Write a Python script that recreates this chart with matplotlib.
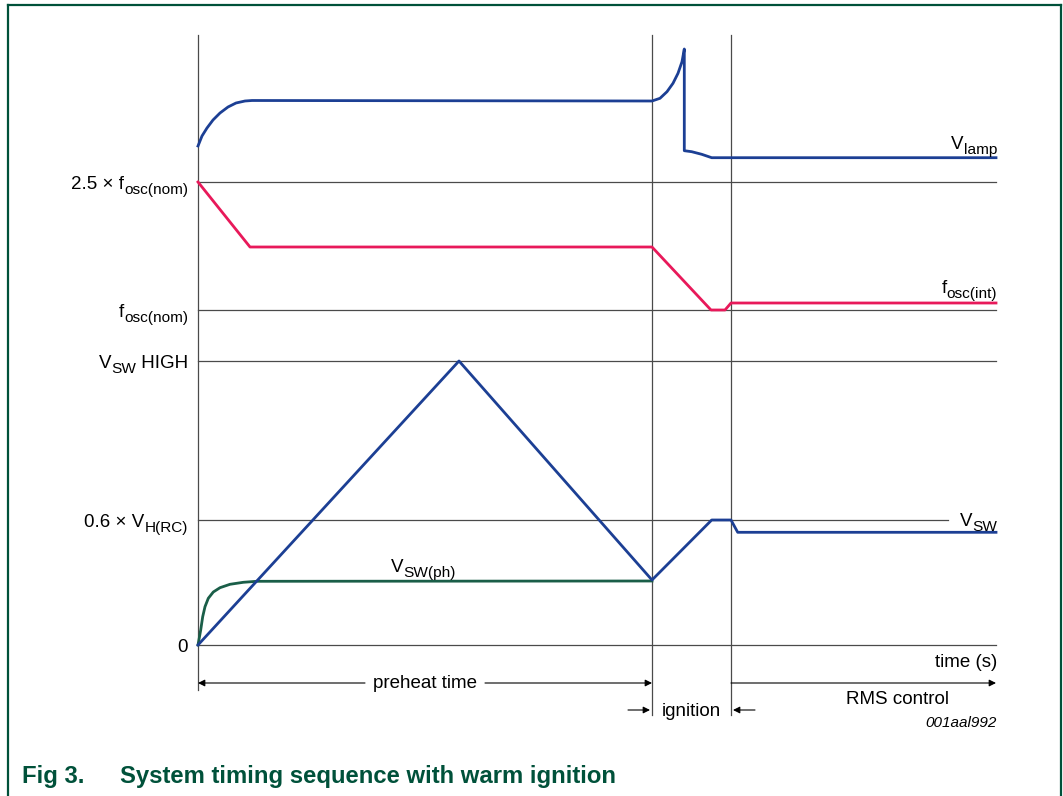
import matplotlib
matplotlib.use('Agg')
import matplotlib.pyplot as plt
from matplotlib.lines import Line2D
from matplotlib.transforms import offset_copy

plt.rcParams['font.family'] = ['Liberation Sans', 'DejaVu Sans']

# phase boundaries on the time axis
t_preheat = 454
t_ignition = 533
t_end = 798

# reference levels and their labels (text, is_subscript)
levels = [463, 335, 284, 125, 0]
level_labels = [[('2.5 × f', False), ('osc(nom)', True)],
                [('f', False), ('osc(nom)', True)],
                [('V', False), ('SW', True), (' HIGH', False)],
                [('0.6 × V', False), ('H(RC)', True)],
                [('0', False)]]
level_ends = [798, 798, 798, 750, 798]

# lamp voltage
vlamp_t = [0, 4, 9, 15, 22, 30, 38, 47, 54, 454, 462, 469, 475, 480, 484,
           486.3, 486.3, 493.7, 503.7, 513.7, 798]
vlamp_v = [499, 509, 517, 525, 532, 538, 542, 544, 544.5, 544, 546.7, 553.3,
           561.7, 571.7, 583.3, 596, 494.3, 493.3, 490.7, 487.3, 487.3]

# internal oscillator frequency
fosc_t = [0, 52, 454, 513, 527, 533, 798]
fosc_v = [463, 398, 398, 335, 335, 342, 342]

# switch voltage
vsw_t = [0, 261, 454, 513.7, 533, 539.7, 798]
vsw_v = [0, 284, 65, 125, 125, 112.7, 112.7]

# preheat switch voltage
vswph_t = [0, 2.7, 4.7, 7, 10.3, 15.3, 22, 32, 45.3, 58.7, 454]
vswph_v = [0, 15, 28.3, 38.3, 46.7, 53, 57.3, 60.7, 62.7, 63.7, 64]

blue = '#1c3f94'
red = '#e8195a'
green = '#1a5e48'
grey = '#4a4a4a'
frame = '#00513a'

fig = plt.figure(figsize=(10.63, 7.96), dpi=100)
ax = fig.add_axes([0, 0, 1, 1])
ax.set_xlim(-198, 865)
ax.set_ylim(-151, 645)
ax.axis('off')

fs = 13.5
renderer = fig.canvas.get_renderer()


def rich(x, y, parts, ha='left', size=fs):
    # lay out text pieces on one baseline, subscripts smaller and lowered
    pieces = []
    for s, sub in parts:
        t = ax.text(x, y, s, fontsize=size * 0.82 if sub else size,
                    va='baseline', ha='left')
        pieces.append((t, sub, t.get_window_extent(renderer).width))
    total = sum(w for _, _, w in pieces)
    off = {'left': 0, 'center': -total / 2, 'right': -total}[ha]
    for t, sub, w in pieces:
        t.set_transform(offset_copy(ax.transData, fig=fig, x=off,
                                    y=-5 if sub else 0, units='dots'))
        off += w


# horizontal reference lines
for lv, lab, xe in zip(levels, level_labels, level_ends):
    ax.plot([0, xe], [lv, lv], color=grey, lw=0.9)
    rich(-10, lv - 7, lab, ha='right')

# phase boundary lines
ax.plot([0, 0], [610, -45], color=grey, lw=0.9)
ax.plot([t_preheat, t_preheat], [610, -70], color=grey, lw=0.9)
ax.plot([t_ignition, t_ignition], [610, -70], color=grey, lw=0.9)

ax.plot(vlamp_t, vlamp_v, color=blue, lw=2.0, solid_joinstyle='round')
ax.plot(fosc_t, fosc_v, color=red, lw=2.0, solid_joinstyle='round')
ax.plot(vswph_t, vswph_v, color=green, lw=2.0, solid_joinstyle='round')
ax.plot(vsw_t, vsw_v, color=blue, lw=2.0, solid_joinstyle='round')

# curve labels
rich(799, 496, [('V', False), ('lamp', True)], ha='right')
rich(799, 352, [('f', False), ('osc(int)', True)], ha='right')
rich(799, 119, [('V', False), ('SW', True)], ha='right')
rich(193, 73, [('V', False), ('SW(ph)', True)], ha='left')
ax.text(799, -9, 'time (s)', ha='right', va='top', fontsize=fs)

# phase arrows
arr = dict(arrowstyle='-|>', color='black', lw=0.8, mutation_scale=10,
           shrinkA=0, shrinkB=0)
y_row = -38
ax.annotate('', xy=(0, y_row), xytext=(167, y_row), arrowprops=arr)
ax.annotate('', xy=(t_preheat, y_row), xytext=(287, y_row), arrowprops=arr)
ax.text(227, y_row, 'preheat time', ha='center', va='center', fontsize=fs)
ax.annotate('', xy=(t_end, y_row), xytext=(t_ignition, y_row), arrowprops=arr)
ax.text(700, -55, 'RMS control', ha='center', va='center', fontsize=fs)

y_ign = -65
ax.annotate('', xy=(t_preheat - 2, y_ign), xytext=(t_preheat - 24, y_ign), arrowprops=arr)
ax.annotate('', xy=(t_ignition + 2, y_ign), xytext=(t_ignition + 24, y_ign), arrowprops=arr)
ax.text((t_preheat + t_ignition) / 2, y_ign - 1, 'ignition', ha='center', va='center', fontsize=fs)

ax.text(799, -78, '001aal992', ha='right', va='center', fontsize=11, style='italic')

# caption and frame
fig.text(22 / 1063, 1 - 776 / 796, 'Fig 3.', color=frame, fontsize=17.2,
         fontweight='bold', va='center', ha='left')
fig.text(120 / 1063, 1 - 776 / 796, 'System timing sequence with warm ignition',
         color=frame, fontsize=17.2, fontweight='bold', va='center', ha='left')
x0, x1, y0 = 7.5 / 1063, 1061 / 1063, 1 - 4.5 / 796
for xs, ys in [([x0, x1], [y0, y0]), ([x0, x0], [y0, 0]), ([x1, x1], [y0, 0])]:
    fig.add_artist(Line2D(xs, ys, color=frame, lw=1.6, transform=fig.transFigure))

fig.savefig('out.png', dpi=100)
